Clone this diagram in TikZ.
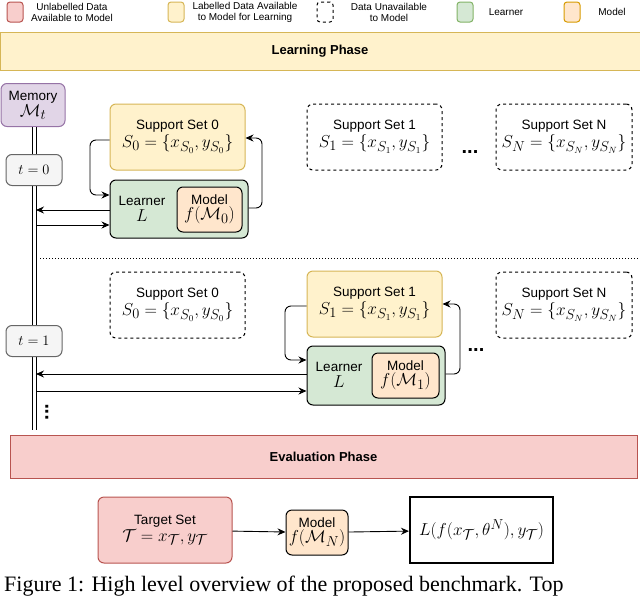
\documentclass[tikz,border=0pt]{standalone}
\usepackage{fontspec}
\setmainfont{Liberation Sans}
\newfontfamily\capfont{Liberation Serif}
\usetikzlibrary{arrows.meta}
\definecolor{rf}{HTML}{F8CECC}\definecolor{rs}{HTML}{B85450}
\definecolor{yf}{HTML}{FFF2CC}\definecolor{ys}{HTML}{D6B656}
\definecolor{gf}{HTML}{D5E8D4}\definecolor{gs}{HTML}{82B366}
\definecolor{of}{HTML}{FFE6CC}\definecolor{os}{HTML}{D79B00}
\definecolor{pf}{HTML}{E1D5E7}\definecolor{ps}{HTML}{9673A6}
\definecolor{hf}{HTML}{F5F5F5}\definecolor{hs}{HTML}{666666}
\begin{document}
\begin{tikzpicture}[x=1pt,y=-1pt,
 box/.style={rounded corners=6pt,line width=1pt,inner sep=0pt,align=center},
 red/.style={box,fill=rf,draw=rs},
 yel/.style={box,fill=yf,draw=ys},
 grn/.style={box,fill=gf,draw=black},
 org/.style={box,fill=of,draw=black},
 dsh/.style={box,draw=black,dashed},
 leg/.style={font=\fontsize{10}{11}\selectfont,align=center},
 lbl/.style={font=\fontsize{13.5}{15}\selectfont},
 arr/.style={-{Stealth[length=8pt,width=7pt]},line width=0.9pt}]
\newcommand\mm[1]{{\fontsize{19}{21}\selectfont$#1$}}
\useasboundingbox (0,0) rectangle (640,595);
% legend
\node[red,minimum width=16pt,minimum height=20pt,rounded corners=3pt] (l1) at (15,12) {};
\node[leg] (t1) at (72,12) {Unlabelled Data\\Available to Model};
\node[yel,minimum width=16pt,minimum height=20pt,rounded corners=3pt] (l2) at (176,12) {};
\node[leg] (t2) at (245,12) {Labelled Data Available\\to Model for Learning};
\node[dsh,minimum width=16pt,minimum height=20pt,rounded corners=3pt] (l3) at (325,12) {};
\node[leg] (t3) at (389,12) {Data Unavailable\\to Model};
\node[grn,draw=gs,minimum width=16pt,minimum height=20pt,rounded corners=3pt] (l4) at (465,12) {};
\node[leg] (t4) at (506,12) {Learner};
\node[org,draw=os,minimum width=16pt,minimum height=20pt,rounded corners=3pt] (l5) at (572,12) {};
\node[leg] (t5) at (612,12) {Model};
% learning phase
\node[yel,rounded corners=0pt,minimum width=640pt,minimum height=38pt,font=\bfseries\fontsize{13}{15}\selectfont] (lp) at (320,51) {Learning Phase};
% memory
\node[box,fill=pf,draw=ps,minimum width=64pt,minimum height=43pt,lbl] (mem) at (33,105) {Memory\\[1pt]\mm{\mathcal{M}_t}};
\coordinate (mb) at (34.5,430);
\draw[double,double distance=3pt,line width=0.8pt] (mem.south -| mb) -- (mb);
\node[box,fill=hf,draw=hs,minimum width=56pt,minimum height=31pt,font=\fontsize{14}{15}\selectfont] (t0) at (34,170) {$t=0$};
\node[box,fill=hf,draw=hs,minimum width=56pt,minimum height=31pt,font=\fontsize{14}{15}\selectfont] (t1b) at (34,341) {$t=1$};
% row 1
\node[yel,minimum width=135pt,minimum height=66pt] (s0) at (177.5,137) {\fontsize{13.5}{15}\selectfont Support Set 0\\[1pt]\mm{S_0=\big\{x_{S_0},y_{S_0}\big\}}};
\node[grn,minimum width=138pt,minimum height=58pt] (L0) at (179,209) {};
\node[lbl,align=center] (L0t) at (142,209) {Learner\\[1pt]\mm{L}};
\node[org,minimum width=65pt,minimum height=45pt] (m0) at (209.5,209.5) {\fontsize{13.5}{15}\selectfont Model\\[1pt]\mm{f(\mathcal{M}_0)}};
\node[dsh,minimum width=135pt,minimum height=66pt] (s1) at (374.5,137) {\fontsize{13.5}{15}\selectfont Support Set 1\\[1pt]\mm{S_1=\big\{x_{S_1},y_{S_1}\big\}}};
\node[font=\bfseries\fontsize{20}{20}\selectfont] (d1) at (470,152) {...};
\node[dsh,minimum width=136pt,minimum height=66pt] (sn) at (564,137) {\fontsize{13.5}{15}\selectfont Support Set N\\[1pt]\mm{S_N=\big\{x_{S_N},y_{S_N}\big\}}};
\draw[arr] (L0.west |- 0,210) -- (36,210);
\draw[arr] (36,225) -- (L0.west |- 0,225);
\draw[arr,rounded corners=6pt] (s0.west |- 0,140) -- (90,140) -- (90,195) -- (L0.west |- 0,195);
\draw[arr,rounded corners=6pt] (L0.east |- 0,208) -- (262,208) -- (262,138) -- (s0.east |- 0,138);
% separator
\coordinate (da) at (40,258); \coordinate (db) at (640,258);
\draw[dotted,line width=1pt] (da) -- (db);
% row 2
\node[dsh,minimum width=135pt,minimum height=66pt] (r0) at (177.5,305) {\fontsize{13.5}{15}\selectfont Support Set 0\\[1pt]\mm{S_0=\big\{x_{S_0},y_{S_0}\big\}}};
\node[yel,minimum width=135pt,minimum height=66pt] (r1) at (374.5,304) {\fontsize{13.5}{15}\selectfont Support Set 1\\[1pt]\mm{S_1=\big\{x_{S_1},y_{S_1}\big\}}};
\node[grn,minimum width=138pt,minimum height=59pt] (L1) at (376,375.5) {};
\node[lbl,align=center] (L1t) at (339,375) {Learner\\[1pt]\mm{L}};
\node[org,minimum width=67pt,minimum height=45pt] (m1) at (405.5,375.5) {\fontsize{13.5}{15}\selectfont Model\\[1pt]\mm{f(\mathcal{M}_1)}};
\node[font=\bfseries\fontsize{20}{20}\selectfont] (d2) at (476,350) {...};
\node[dsh,minimum width=136pt,minimum height=66pt] (rn) at (564,305) {\fontsize{13.5}{15}\selectfont Support Set N\\[1pt]\mm{S_N=\big\{x_{S_N},y_{S_N}\big\}}};
\draw[arr] (L1.west |- 0,374) -- (36,374);
\draw[arr] (36,391) -- (L1.west |- 0,391);
\draw[arr,rounded corners=6pt] (r1.west |- 0,306) -- (285,306) -- (285,360) -- (L1.west |- 0,360);
\draw[arr,rounded corners=6pt] (L1.east |- 0,374) -- (460,374) -- (460,304) -- (r1.east |- 0,304);
\node[font=\bfseries\fontsize{20}{20}\selectfont,rotate=90] (vd) at (47,412) {...};
% evaluation
\node[red,rounded corners=0pt,minimum width=627pt,minimum height=43pt,font=\bfseries\fontsize{13}{15}\selectfont] (ep) at (323.5,456.5) {Evaluation Phase};
\node[red,minimum width=134pt,minimum height=66pt] (ts) at (165,530) {\fontsize{13.5}{15}\selectfont Target Set\\[1pt]\mm{\mathcal{T}=x_{\mathcal{T}},y_{\mathcal{T}}}};
\node[org,minimum width=62pt,minimum height=45pt] (mn) at (317,532.5) {\fontsize{13.5}{15}\selectfont Model\\[1pt]\mm{f(\mathcal{M}_N)}};
\node[box,rounded corners=0pt,draw=black,line width=2pt,minimum width=143pt,minimum height=66pt] (res) at (481.5,530) {\mm{L(f(x_{\mathcal{T}},\theta^N),y_{\mathcal{T}})}};
\draw[arr] (ts) -- (mn);
\draw[arr] (mn) -- (res);
% caption
\node[anchor=west,font=\capfont\fontsize{22}{22}\selectfont,inner sep=0pt] (cap) at (4,586) {Figure 1: High level overview of the proposed benchmark. Top};
\end{tikzpicture}
\end{document}
